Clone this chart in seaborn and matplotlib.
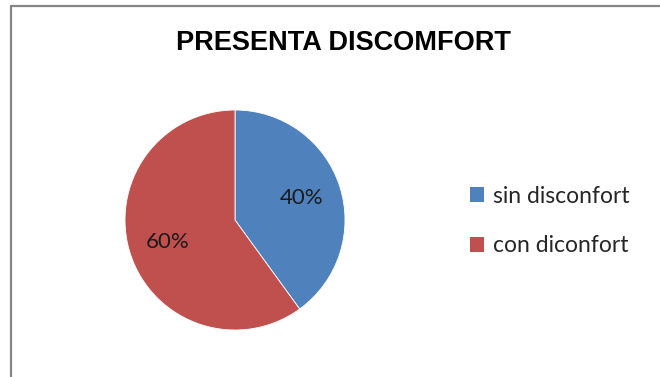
import matplotlib.pyplot as plt
import seaborn as sns
from matplotlib.lines import Line2D
from matplotlib.patches import Patch

categories = ["sin disconfort", "con diconfort"]
values = [40, 60]
colors = ["#4F81BD", "#C0504D"]
title = "PRESENTA DISCOMFORT"

sns.set_theme(style="white")
plt.rcParams['font.family'] = ['Lato', 'DejaVu Sans']

fig = plt.figure(figsize=(6.6, 3.77), dpi=100)
fig.patch.set_facecolor("white")

# chart frame (only top and left edges visible in the crop)
fig.add_artist(Line2D([11 / 660, 11 / 660], [0, 1 - 6 / 377], color="#868686", lw=1.6,
                      transform=fig.transFigure))
fig.add_artist(Line2D([11 / 660, 1], [1 - 6 / 377, 1 - 6 / 377], color="#868686", lw=1.6,
                      transform=fig.transFigure))

ax = fig.add_axes([125 / 660, 47 / 377, 220 / 660, 220 / 377])
wedges, texts, autotexts = ax.pie(values, colors=colors, startangle=90, counterclock=False,
                                  autopct="%1.0f%%", pctdistance=0.64,
                                  wedgeprops={"edgecolor": "white", "linewidth": 0.6},
                                  textprops={"fontsize": 16, "color": "#1a1a1a"})
ax.set_xlim(-1, 1)
ax.set_ylim(-1, 1)
ax.set_aspect("equal")
ax.axis("off")

fig.text(343 / 660, 1 - 43 / 377, title, ha="center", va="center", fontsize=19.5,
         fontweight="bold", family=["Liberation Sans", "DejaVu Sans"], color="black")

handles = [Patch(facecolor=c, edgecolor="none") for c in colors]
fig.legend(handles, categories, loc="center left", bbox_to_anchor=(470 / 660, 1 - 221 / 377),
           frameon=False, fontsize=16.5, handlelength=0.6, handleheight=0.6,
           handletextpad=0.4, labelspacing=1.25, borderaxespad=0, borderpad=0)

plt.savefig("out.png", dpi=100)
